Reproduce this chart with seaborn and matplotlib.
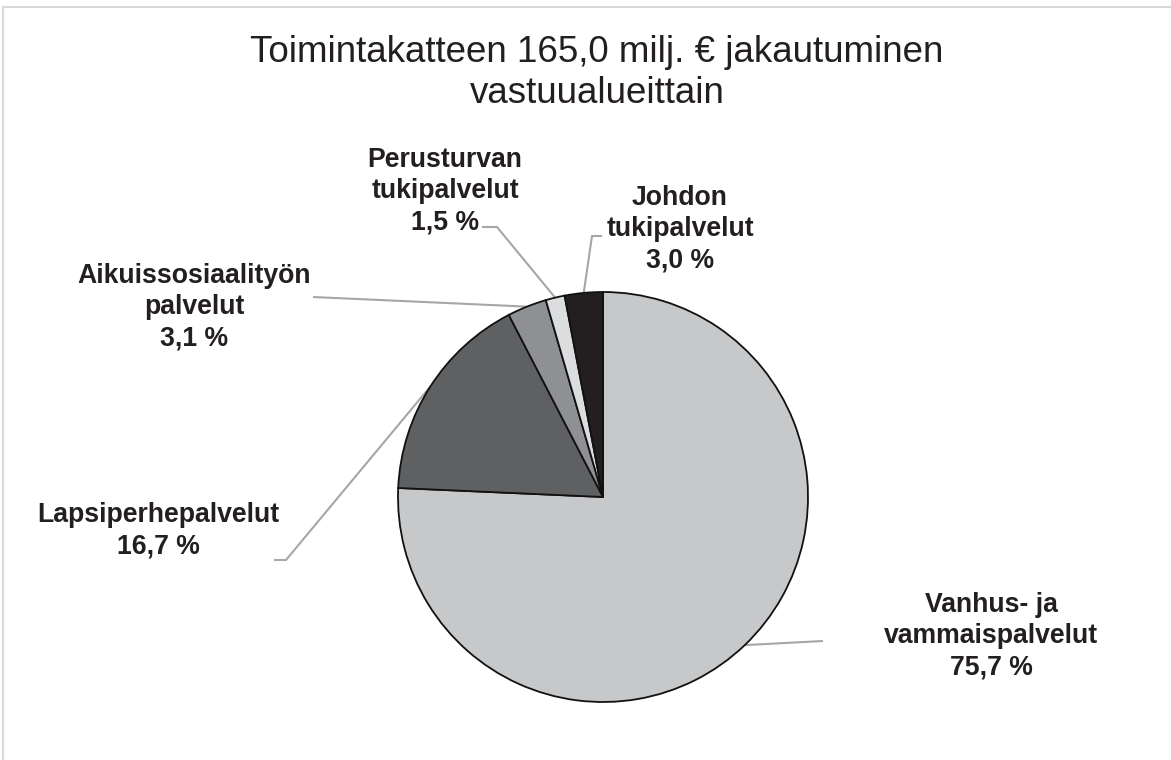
import numpy as np
import matplotlib
matplotlib.use('Agg')
import matplotlib.pyplot as plt
import matplotlib.patches as mpatches
import seaborn as sns

# Data
names = ['Vanhus- ja\nvammaispalvelut', 'Lapsiperhepalvelut', 'Aikuissosiaalityön\npalvelut',
         'Perusturvan\ntukipalvelut', 'Johdon\ntukipalvelut']
shares = [75.7, 16.7, 3.1, 1.5, 3.0]
colors = ['#c7c8ca', '#5f6062', '#8f9093', '#dcdddf', '#231f20']
title = 'Toimintakatteen 165,0 milj. € jakautuminen\nvastuualueittain'

# Layout (pixels, origin top-left)
W, H = 1171, 760
CX, CY, R = 603, 497, 205
label_pos = [(991, 636), (158, 531), (194, 307), (445, 191), (680, 229)]
elbows = [[(823, 641)],
          [(274, 560), (286, 560)],
          [(313, 297)],
          [(482, 227), (497, 227)],
          [(602, 236), (592, 236)]]

sns.set_theme(style='white')
plt.rcParams['font.family'] = ['Liberation Sans', 'DejaVu Sans']

fig = plt.figure(figsize=(W / 100, H / 100), dpi=100)
fig.patch.set_facecolor('white')
ax = fig.add_axes([0, 0, 1, 1])

wedges, _ = ax.pie(shares, colors=colors, startangle=90, counterclock=False,
                   center=(CX, H - CY), radius=R,
                   wedgeprops=dict(edgecolor='#111111', linewidth=1.3))
ax.set_xlim(0, W)
ax.set_ylim(0, H)
ax.set_aspect('equal')
ax.axis('off')

for w, name, v, lp, el in zip(wedges, names, shares, label_pos, elbows):
    mid = np.deg2rad((w.theta1 + w.theta2) / 2)
    px = CX + R * np.cos(mid)
    py = (H - CY) + R * np.sin(mid)
    xs = [p[0] for p in el] + [px]
    ys = [H - p[1] for p in el] + [py]
    ax.plot(xs, ys, color='#a6a6a6', linewidth=1.5, solid_capstyle='butt', zorder=0)
    txt = name + '\n' + f'{v:.1f}'.replace('.', ',') + ' %'
    ax.text(lp[0], H - lp[1], txt, ha='center', va='center', multialignment='center',
            fontsize=19.2, fontweight='bold', color='#231f20', linespacing=1.27)

fig.text(597 / W, 1 - 73 / H, title, ha='center', va='center', fontsize=26.5,
         color='#231f20', linespacing=1.22)

# outer frame
fig.patches.append(mpatches.Rectangle((3 / W, -0.1), 1.2, (H - 7) / H + 0.1,
                                      transform=fig.transFigure, fill=False,
                                      edgecolor='#d9d9d9', linewidth=1.5))

plt.savefig('out.png', dpi=100, facecolor='white')
